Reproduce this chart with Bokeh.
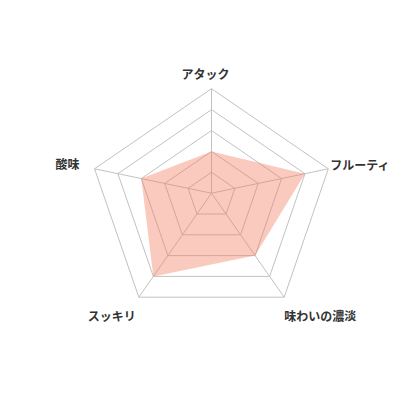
import numpy as np
from bokeh.plotting import figure
from bokeh.models import Range1d
from bokeh.core.properties import value
from bokeh.embed import file_html
from bokeh.resources import INLINE

# ---- data ----
categories = ["アタック", "フルーティ", "味わいの濃淡", "スッキリ", "酸味"]
scores = [2, 4, 3, 4, 3]
max_score = 5
ring_levels = [1, 2, 3, 4, 5]

# ---- layout (chart geometry, pixels at full scale) ----
# outer-vertex direction of each spoke (the frame is slightly irregular)
axis_dx = [0.0, 116.8, 72.7, -72.7, -117.0]
axis_dy = [104.5, 24.4, -104.0, -104.0, 24.4]
label_off_x = [-6, 2, 36, -27, -15]
label_off_y = [15, 4, -18, -18, 5]
label_align = ["center", "left", "center", "center", "right"]

W = H = 404
p = figure(width=W, height=H, output_backend="svg", toolbar_location=None,
           x_range=Range1d(-211, 193), y_range=Range1d(-211.3, 192.7),
           min_border=0)
p.axis.visible = False
p.grid.visible = False
p.outline_line_color = None
p.background_fill_color = "white"
p.border_fill_color = "white"

dx = np.array(axis_dx)
dy = np.array(axis_dy)

# grid rings
xs, ys = [], []
for lv in ring_levels:
    f = lv / max_score
    xs.append(list(dx * f) + [dx[0] * f])
    ys.append(list(dy * f) + [dy[0] * f])
p.multi_line(xs, ys, line_color="#c2c2c2", line_width=1)

# spokes
p.segment(x0=[0] * len(dx), y0=[0] * len(dy), x1=list(dx), y1=list(dy),
          line_color="#c2c2c2", line_width=1)

# data polygon
f = np.array(scores) / max_score
p.patch(list(dx * f), list(dy * f), fill_color="#F07A5A", fill_alpha=0.4,
        line_alpha=0)

# labels
for i, name in enumerate(categories):
    p.text(x=[dx[i] + label_off_x[i]], y=[dy[i] + label_off_y[i]], text=[name],
           text_align=label_align[i], text_baseline="middle",
           text_font=value("Noto Sans CJK JP"), text_font_size="12px",
           text_font_style="bold", text_color="#333333")

open("out.html", "w").write(file_html(p, INLINE))
